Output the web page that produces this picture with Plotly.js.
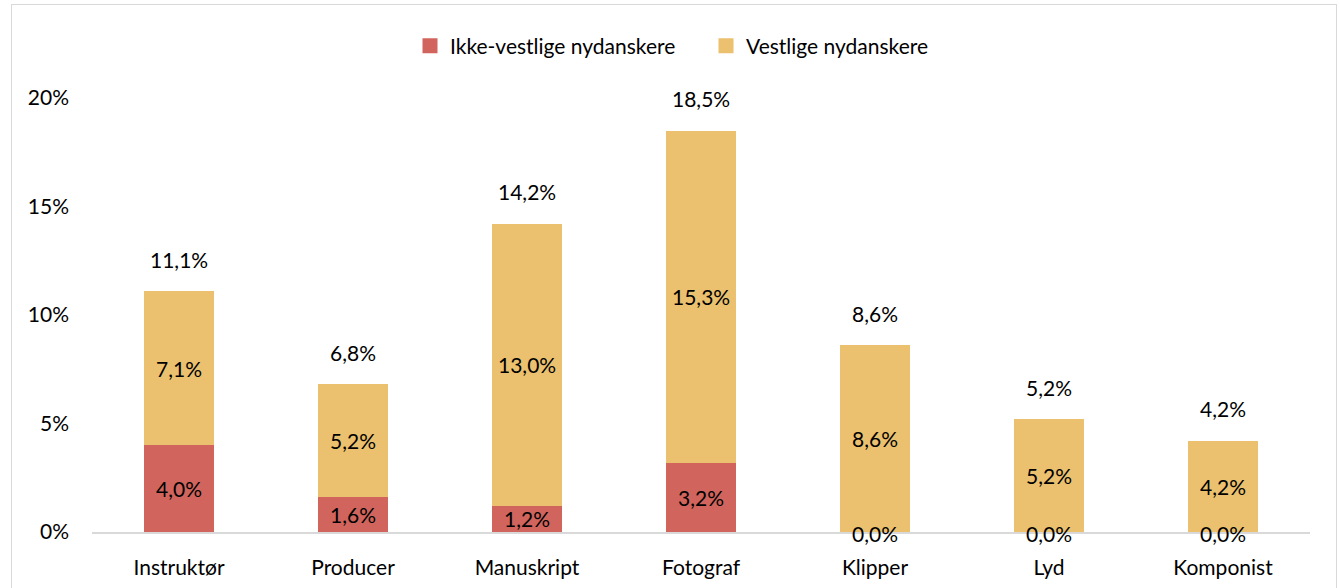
<!DOCTYPE html>
<html>
<head>
<meta charset="utf-8">
<script src="https://cdn.plot.ly/plotly-3.0.1.min.js"></script>
<style>
html,body{margin:0;padding:0;background:#fff;}
#frame{position:absolute;left:11px;top:4px;width:1326px;height:600px;border:1px solid #d9d9d9;box-sizing:border-box;}
#chart{position:absolute;left:0;top:0;width:1340px;height:588px;}
</style>
</head>
<body>
<div id="frame"></div>
<div id="chart"></div>
<script>
const categories = ["Instruktør","Producer","Manuskript","Fotograf","Klipper","Lyd","Komponist"];
const ikkeVestlige = [4.0,1.6,1.2,3.2,0.0,0.0,0.0];
const vestlige = [7.1,5.2,13.0,15.3,8.6,5.2,4.2];
const totals = [11.1,6.8,14.2,18.5,8.6,5.2,4.2];
const tickVals = [0,5,10,15,20];
const seriesNames = ["Ikke-vestlige nydanskere","Vestlige nydanskere"];

const RED = "#D1655D", YEL = "#EBC06E";
const FONT = "Lato, 'Liberation Sans', sans-serif";
const FS = 21;
const fmt = v => v.toFixed(1).replace(".", ",") + "%";

const traces = [
  {type:"bar", name:seriesNames[0], x:categories, y:ikkeVestlige, marker:{color:RED}, hoverinfo:"none", showlegend:false},
  {type:"bar", name:seriesNames[1], x:categories, y:vestlige, marker:{color:YEL}, hoverinfo:"none", showlegend:false},
  {type:"scatter", mode:"markers", name:seriesNames[0], x:[null], y:[null], marker:{symbol:"square", size:15, color:RED}, showlegend:true},
  {type:"scatter", mode:"markers", name:seriesNames[1], x:[null], y:[null], marker:{symbol:"square", size:15, color:YEL}, showlegend:true}
];

const annotations = [];
categories.forEach((c,i)=>{
  const a = ikkeVestlige[i], b = vestlige[i];
  if (a > 0) annotations.push({x:c, y:a/2, text:fmt(a), showarrow:false, yanchor:"middle"});
  else annotations.push({x:c, y:0, text:fmt(a), showarrow:false, yanchor:"middle", yshift:-1});
  annotations.push({x:c, y:a + b/2, text:fmt(b), showarrow:false, yanchor:"middle"});
  annotations.push({x:c, y:totals[i], text:fmt(totals[i]), showarrow:false, yanchor:"middle", yshift:32});
});
annotations.forEach(an=>{ an.font = {family:FONT, size:FS, color:"#000"}; });

const layout = {
  width:1340, height:588,
  margin:{l:92, r:30, t:98, b:56, pad:0},
  paper_bgcolor:"rgba(0,0,0,0)", plot_bgcolor:"rgba(0,0,0,0)",
  barmode:"stack", bargap:0.6,
  separators:", ",
  font:{family:FONT, size:FS, color:"#000"},
  showlegend:true,
  legend:{orientation:"h", x:410/1340, xanchor:"left", xref:"container", y:1-46/588, yanchor:"middle", yref:"container",
          font:{family:FONT, size:FS, color:"#000"}, itemwidth:30, entrywidth:251, entrywidthmode:"pixels",
          traceorder:"normal", tracegroupgap:0},
  xaxis:{showgrid:false, showline:true, linecolor:"#d9d9d9", linewidth:1.5, ticks:"", tickfont:{family:FONT,size:FS,color:"#000"}, ticklabelstandoff:16, fixedrange:true},
  yaxis:{range:[0,20], tickvals:tickVals, ticktext:tickVals.map(v=>v+"%"), showgrid:false, zeroline:false, showline:false, ticks:"",
         tickfont:{family:FONT,size:FS,color:"#000"}, ticklabelstandoff:22, fixedrange:true},
  annotations:annotations
};

Plotly.newPlot("chart", traces, layout, {displayModeBar:false, staticPlot:true});
</script>
</body>
</html>
